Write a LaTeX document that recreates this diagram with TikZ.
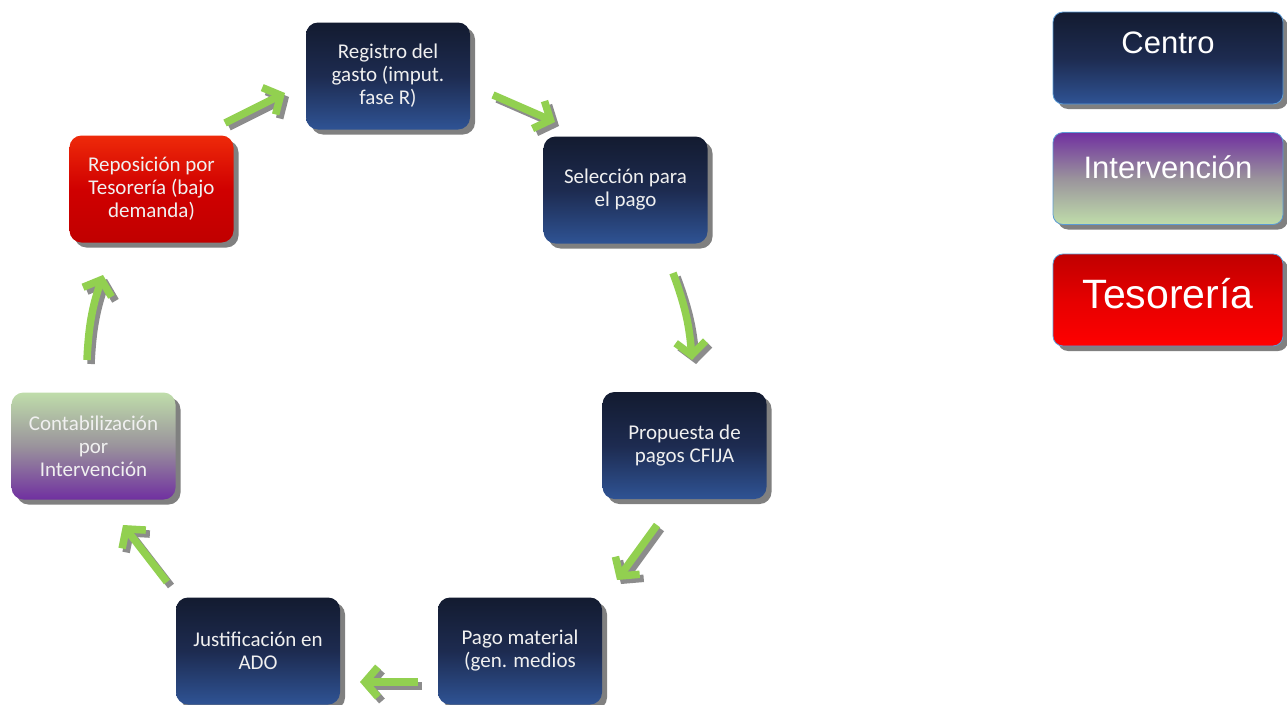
\documentclass[tikz,border=0pt]{standalone}
\usepackage{fontspec}
\setmainfont{Carlito}
\newfontfamily\arial{Liberation Sans}
\usetikzlibrary{positioning,
        shadows,
        arrows.meta}
\usepackage{xcolor}
\definecolor{navyTop}{HTML}{131B30}
\definecolor{navyMid}{HTML}{1D2B50}
\definecolor{navyBot}{HTML}{2F5394}
\definecolor{rojoTop}{HTML}{EE2A0A}
\definecolor{rojoMid}{HTML}{D00000}
\definecolor{rojoBot}{HTML}{C00000}
\definecolor{morado}{HTML}{7030A0}
\definecolor{grisMid}{HTML}{9A939C}
\definecolor{verdeClaro}{HTML}{BFDDAA}
\definecolor{verdeFlecha}{HTML}{92D050}
\definecolor{bordeLey}{HTML}{5B9BD5}

\begin{document}
\begin{tikzpicture}[x=1pt,y=-1pt,
    paso/.style={rounded corners=12pt,minimum width=164pt,minimum height=107pt,
        align=center,text=white!94!black,font=\fontsize{21}{23}\selectfont,
        drop shadow={shadow xshift=5pt,shadow yshift=-5pt,fill=black!50,opacity=1}},
    centro/.style={top color=navyTop,bottom color=navyBot,middle color=navyMid},
    interv/.style={top color=verdeClaro,bottom color=morado,middle color=grisMid},
    tesor/.style={top color=rojoTop,bottom color=rojoBot,middle color=rojoMid},
    leyenda/.style={rounded corners=10pt,draw=bordeLey,line width=0.8pt,
        minimum width=230pt,minimum height=92pt,
        drop shadow={shadow xshift=5pt,shadow yshift=-5pt,fill=black!50,opacity=1}},
    leytexto/.style={text=white,font=\arial\fontsize{31}{36}\selectfont},
    flecha/.style={draw=verdeFlecha,line width=7.5pt,
        -{Straight Barb[length=13pt,width=30pt]}},
    fsombra/.style={flecha,draw=black!45,transform canvas={xshift=4pt,yshift=-4pt}}]
    \fill[white] (0,0) rectangle (1287,704);
    \useasboundingbox (0,0) rectangle (1287,704);

    % ciclo
    \node [paso,centro] (registro) at (388,76) {Registro del\\gasto (imput.\\fase R)};
    \node [paso,centro] (seleccion) at (625.5,190) {Selección para\\el pago};
    \node [paso,centro] (propuesta) at (684.5,445.5) {Propuesta de\\pagos CFIJA};
    \node [paso,centro] (pago) at (520,651) {Pago material\\(gen. medios};
    \node [paso,centro] (justificacion) at (258,651) {Justificación en\\ADO};
    \node [paso,interv] (contab) at (93.5,446) {Contabilización\\por\\Intervención};
    \node [paso,tesor] (reposicion) at (151.5,189) {Reposición por\\Tesorería (bajo\\demanda)};

    % leyenda
    \node [leyenda,centro,label={[leytexto,yshift=15pt]center:Centro}] (lcentro) at (1168,58) {};
    \node [leyenda,top color=morado,bottom color=verdeClaro,middle color=grisMid,
        label={[leytexto,yshift=11pt]center:Intervención}] (linterv) at (1168,178.5) {};
    \node [leyenda,top color=rojoBot,bottom color=red,middle color=red!90!black,
        label={[leytexto,font=\arial\fontsize{41}{46}\selectfont,yshift=6pt]center:Tesorería}] (ltesor) at (1168,300) {};

    % flechas
    \coordinate (f1a) at (225,123); \coordinate (f1b) at (285,93);
    \coordinate (f2a) at (493,95);  \coordinate (f2b) at (555,122);
    \coordinate (f3a) at (673,273); \coordinate (f3b) at (692,360);
    \coordinate (f4a) at (657,525); \coordinate (f4b) at (617,580);
    \coordinate (f5a) at (418,682); \coordinate (f5b) at (360,682);
    \coordinate (f6a) at (167,582); \coordinate (f6b) at (123,525);
    \coordinate (f7a) at (87,360);  \coordinate (f7b) at (103,275);
    \foreach \ini/\fin/\curva in {f1a/f1b/0,f2a/f2b/0,f3a/f3b/8,f4a/f4b/0,
                                  f5a/f5b/0,f6a/f6b/0,f7a/f7b/8} {
        \draw [fsombra] (\ini) to[bend left=\curva] (\fin);
        \draw [flecha] (\ini) to[bend left=\curva] (\fin);
    }
\end{tikzpicture}
\end{document}
